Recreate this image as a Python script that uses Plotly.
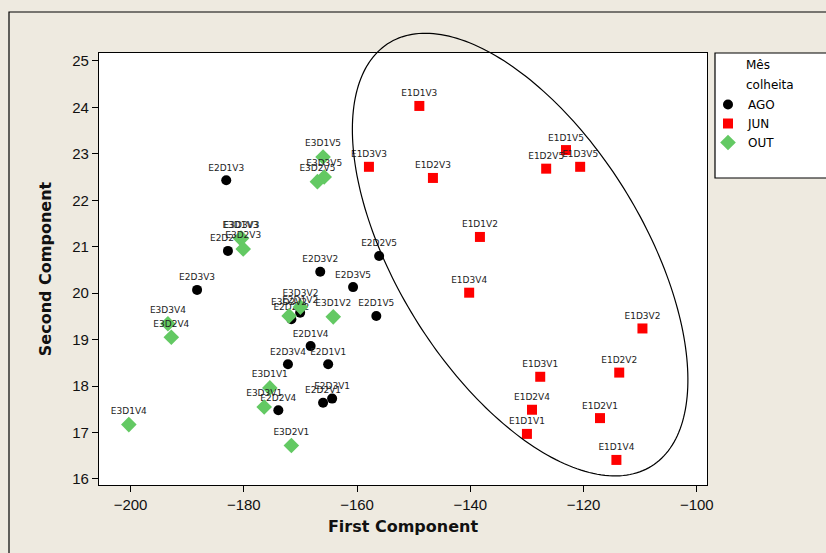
import numpy as np
import plotly.graph_objects as go

# ---------------- data ----------------
ago_labels = ["E2D1V3", "E2D2V3", "E2D3V3", "E2D3V2", "E2D2V5", "E2D3V5", "E2D1V5",
              "E2D1V2", "E2D2V2", "E2D1V4", "E2D3V4", "E2D1V1", "E2D2V1", "E2D3V1", "E2D2V4"]
ago_x = [-183.1, -182.8, -188.25, -166.5, -156.1, -160.7, -156.6,
         -170.05, -171.6, -168.2, -172.2, -165.1, -166.0, -164.4, -173.9]
ago_y = [22.43, 20.91, 20.07, 20.46, 20.80, 20.13, 19.51,
         19.58, 19.44, 18.86, 18.47, 18.47, 17.64, 17.73, 17.48]

jun_labels = ["E1D1V3", "E1D3V3", "E1D2V3", "E1D1V5", "E1D2V5", "E1D3V5", "E1D1V2",
              "E1D3V4", "E1D3V2", "E1D2V2", "E1D3V1", "E1D2V4", "E1D2V1", "E1D1V1", "E1D1V4"]
jun_x = [-149.0, -157.9, -146.6, -123.1, -126.6, -120.6, -138.3,
         -140.2, -109.6, -113.7, -127.65, -129.1, -117.1, -130.0, -114.2]
jun_y = [24.03, 22.72, 22.48, 23.08, 22.68, 22.72, 21.21,
         20.01, 19.24, 18.29, 18.20, 17.49, 17.31, 16.97, 16.41]

out_labels = ["E3D1V5", "E3D3V5", "E3D2V5", "E3D1V3", "E3D3V3", "E3D2V3", "E3D3V4",
              "E3D2V4", "E3D1V4", "E3D1V1", "E3D3V1", "E3D2V1", "E3D1V2", "E3D3V2", "E3D2V2"]
out_x = [-166.0, -165.8, -167.0, -180.6, -180.4, -180.1, -193.4,
         -192.8, -200.3, -175.4, -176.4, -171.6, -164.2, -170.0, -172.0]
out_y = [22.93, 22.50, 22.40, 21.18, 21.18, 20.95, 19.34,
         19.05, 17.17, 17.96, 17.55, 16.72, 19.49, 19.70, 19.51]

x_ticks = [-200, -180, -160, -140, -120, -100]
y_ticks = [16, 17, 18, 19, 20, 21, 22, 23, 24, 25]

# ---------------- layout constants ----------------
W, H = 826, 553
ML, MT, MR, MB = 99, 53, 119, 68
XR = [-205.57, -98.2]
YR = [15.87, 25.17]
PW = W - ML - MR
PH = H - MT - MB

fig = go.Figure()

label_font = dict(family="DejaVu Sans", size=9, color="#222222")

fig.add_trace(go.Scatter(
    x=ago_x, y=ago_y, text=ago_labels, mode="markers+text", name="AGO",
    textposition="top center", textfont=label_font, cliponaxis=False,
    marker=dict(symbol="circle", size=10, color="black")))
fig.add_trace(go.Scatter(
    x=jun_x, y=jun_y, text=jun_labels, mode="markers+text", name="JUN",
    textposition="top center", textfont=label_font, cliponaxis=False,
    marker=dict(symbol="square", size=10, color="#FF0000")))
fig.add_trace(go.Scatter(
    x=out_x, y=out_y, text=out_labels, mode="markers+text", name="OUT",
    textposition="top center", textfont=label_font, cliponaxis=False,
    marker=dict(symbol="diamond", size=12, color="#63C963")))

# ellipse (drawn in paper coords so it can extend beyond the plot area)
ell_cx, ell_cy = -131.2, 20.83          # centre in data units
ell_a, ell_b, ell_ang = 249.0, 123.0, 58.2  # semi-axes (px) and screen angle (deg)
cx_px = (ell_cx - XR[0]) / (XR[1] - XR[0]) * PW
cy_px = (ell_cy - YR[0]) / (YR[1] - YR[0]) * PH
t = np.linspace(0, 2 * np.pi, 240)
th = np.deg2rad(ell_ang)
ex = ell_a * np.cos(t) * np.cos(th) - ell_b * np.sin(t) * np.sin(th)
ey = ell_a * np.cos(t) * np.sin(th) + ell_b * np.sin(t) * np.cos(th)
px = (cx_px + ex) / PW
py = (cy_px - ey) / PH
path = "M " + " L ".join(f"{a:.5f},{b:.5f}" for a, b in zip(px, py)) + " Z"
fig.add_shape(type="path", path=path, xref="paper", yref="paper",
              line=dict(color="black", width=1.2), layer="above")

# outer frame (left/top visible)
fig.add_shape(type="rect", xref="paper", yref="paper",
              x0=(9 - ML) / PW, x1=2.0, y0=-1.0, y1=(H - MB - 12) / PH,
              line=dict(color="black", width=1.2), layer="below")

# legend box
fig.add_shape(type="rect", xref="paper", yref="paper",
              x0=(715 - ML) / PW, x1=(835 - ML) / PW,
              y0=(H - MB - 178) / PH, y1=(H - MB - 53) / PH,
              line=dict(color="black", width=1.2), fillcolor="white", layer="below")
for txt, ypx in [("Mês", 65), ("colheita", 85)]:
    fig.add_annotation(text=txt, xref="paper", yref="paper",
                       x=(744 - ML) / PW, y=(H - MB - ypx) / PH,
                       xanchor="left", yanchor="middle", showarrow=False, align="left",
                       font=dict(family="DejaVu Sans", size=12, color="black"))

axis_common = dict(showgrid=False, zeroline=False, showline=True, linecolor="black",
                   linewidth=1.2, mirror=True, ticks="outside", ticklen=6,
                   tickcolor="black", tickfont=dict(family="Liberation Sans", size=15,
                                                    color="#111111"))
fig.update_layout(
    width=W, height=H,
    margin=dict(l=ML, r=MR, t=MT, b=MB),
    paper_bgcolor="#EEEAE0", plot_bgcolor="white",
    showlegend=True,
    legend=dict(x=(708 - ML) / PW, y=(H - MB - 90) / PH, xanchor="left", yanchor="top",
                bgcolor="rgba(0,0,0,0)", borderwidth=0,
                font=dict(family="DejaVu Sans", size=12, color="black"),
                tracegroupgap=0, itemclick=False),
    xaxis=dict(range=XR, tickvals=x_ticks, **axis_common,
               title=dict(text="<b>First Component</b>", standoff=8,
                          font=dict(family="DejaVu Sans", size=16, color="#111111"))),
    yaxis=dict(range=YR, tickvals=y_ticks, **axis_common,
               title=dict(text="<b>Second Component</b>", standoff=16,
                          font=dict(family="DejaVu Sans", size=16, color="#111111"))),
)

fig.write_html("out.html")
